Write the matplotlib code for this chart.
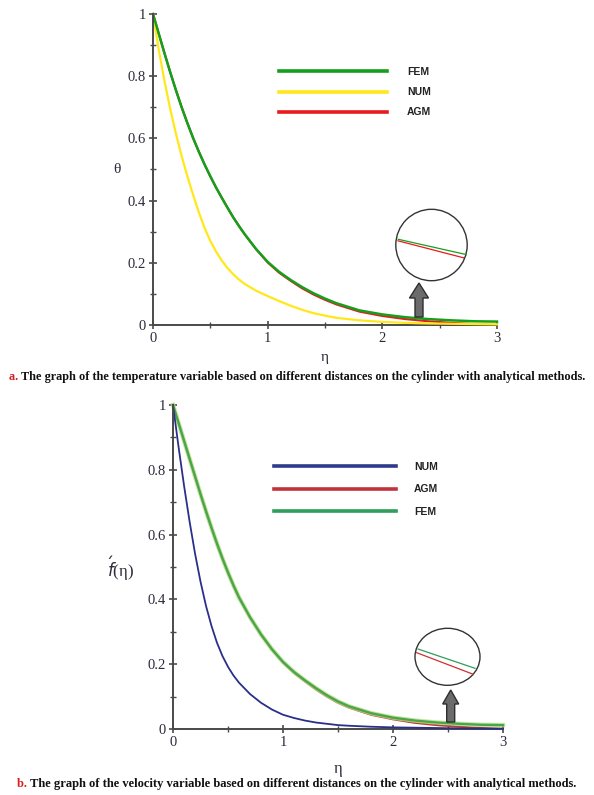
import matplotlib
matplotlib.use("Agg")
import matplotlib.pyplot as plt
from matplotlib.patches import Circle, Ellipse, FancyArrow
from matplotlib.lines import Line2D
from matplotlib.ticker import MultipleLocator

# ---------------- data: panel a (temperature) ----------------
eta_a = [0, 0.05, 0.1, 0.15, 0.2, 0.25, 0.3, 0.35, 0.4, 0.45, 0.5, 0.55, 0.6, 0.65, 0.7, 0.75,
         0.8, 0.9, 1.0, 1.1, 1.2, 1.3, 1.4, 1.5, 1.6, 1.8, 2.0, 2.2, 2.4, 2.6, 2.8, 3.0]
fem_a = [1.0, 0.937, 0.874, 0.813, 0.755, 0.700, 0.649, 0.601, 0.557, 0.516, 0.478, 0.442,
         0.409, 0.377, 0.346, 0.318, 0.292, 0.244, 0.203, 0.171, 0.145, 0.122, 0.102, 0.085,
         0.07, 0.047, 0.034, 0.025, 0.019, 0.015, 0.012, 0.011]
agm_a = [1.0, 0.937, 0.874, 0.813, 0.755, 0.700, 0.649, 0.601, 0.557, 0.516, 0.478, 0.442,
         0.409, 0.377, 0.346, 0.318, 0.291, 0.243, 0.201, 0.168, 0.142, 0.118, 0.098, 0.081,
         0.066, 0.043, 0.029, 0.019, 0.012, 0.007, 0.003, 0.0]
num_a = [1.0, 0.885, 0.785, 0.695, 0.615, 0.543, 0.478, 0.418, 0.362, 0.312, 0.27, 0.236,
         0.207, 0.183, 0.163, 0.146, 0.132, 0.11, 0.093, 0.077, 0.062, 0.049, 0.038, 0.03,
         0.023, 0.015, 0.01, 0.007, 0.005, 0.004, 0.003, 0.002]

# ---------------- data: panel b (velocity) ----------------
eta_b = [0, 0.05, 0.1, 0.15, 0.2, 0.25, 0.3, 0.35, 0.4, 0.45, 0.5, 0.55, 0.6, 0.7, 0.8, 0.9,
         1.0, 1.1, 1.2, 1.3, 1.4, 1.5, 1.6, 1.8, 2.0, 2.2, 2.4, 2.6, 2.8, 3.0]
num_b = [1.0, 0.872, 0.752, 0.642, 0.542, 0.455, 0.38, 0.318, 0.266, 0.225, 0.192, 0.165,
         0.143, 0.108, 0.081, 0.06, 0.044, 0.034, 0.026, 0.02, 0.016, 0.012, 0.01, 0.007,
         0.005, 0.004, 0.003, 0.002, 0.0015, 0.001]
fem_b = [1.0, 0.945, 0.89, 0.835, 0.78, 0.725, 0.672, 0.621, 0.572, 0.526, 0.483, 0.443,
         0.406, 0.345, 0.292, 0.246, 0.207, 0.176, 0.15, 0.126, 0.104, 0.085, 0.07, 0.049,
         0.035, 0.026, 0.02, 0.016, 0.013, 0.012]
agm_b = [1.0, 0.945, 0.89, 0.835, 0.78, 0.725, 0.672, 0.621, 0.572, 0.526, 0.483, 0.443,
         0.406, 0.345, 0.291, 0.245, 0.205, 0.173, 0.147, 0.122, 0.1, 0.081, 0.066, 0.044,
         0.03, 0.019, 0.012, 0.007, 0.003, 0.0]

x_ticks = [0, 1, 2, 3]
y_ticks = [0, 0.2, 0.4, 0.6, 0.8, 1]
y_tick_labels = ["0", "0.2", "0.4", "0.6", "0.8", "1"]

caption_a = "The graph of the temperature variable based on different distances on the cylinder with analytical methods."
caption_b = "The graph of the velocity variable based on different distances on the cylinder with analytical methods."

W, H = 594, 795
fig = plt.figure(figsize=(W / 100, H / 100), dpi=100)
fig.patch.set_facecolor("white")

serif = ["Liberation Serif", "DejaVu Serif"]
sans_bold = ["Liberation Sans", "DejaVu Sans"]
tick_col = "#2b2b3b"
spine_col = "#4a4a4a"


def px_axes(l, r, b, t):
    return fig.add_axes([l / W, 1 - b / H, (r - l) / W, (b - t) / H])


def style(ax):
    ax.set_xlim(0, 3)
    ax.set_ylim(0, 1)
    for s in ("top", "right"):
        ax.spines[s].set_visible(False)
    for s in ("left", "bottom"):
        ax.spines[s].set_color(spine_col)
        ax.spines[s].set_linewidth(1.4)
    ax.spines["left"].set_zorder(5)
    ax.set_xticks(x_ticks)
    ax.set_xticklabels([str(v) for v in x_ticks])
    ax.set_yticks(y_ticks)
    ax.set_yticklabels(y_tick_labels)
    ax.xaxis.set_minor_locator(MultipleLocator(0.5))
    ax.yaxis.set_minor_locator(MultipleLocator(0.1))
    ax.tick_params(which="major", direction="inout", length=6, width=1.2, color=spine_col,
                   labelsize=10.5, labelcolor=tick_col, pad=2)
    ax.tick_params(which="minor", direction="inout", length=4, width=1.0, color=spine_col)
    for lab in ax.get_xticklabels() + ax.get_yticklabels():
        lab.set_fontfamily(serif)
    ax.patch.set_alpha(0)


def in_inches(xp, yp):
    return xp / 100, (H - yp) / 100


tr = fig.dpi_scale_trans

# ================= panel a =================
ax1 = px_axes(153, 497, 325, 14)
style(ax1)
l_agm_a, = ax1.plot(eta_a, agm_a, color="#e8191f", lw=1.5, label="AGM", zorder=2)
l_num_a, = ax1.plot(eta_a, num_a, color="#ffe81a", lw=1.6, label="NUM", zorder=3)
l_fem_a, = ax1.plot(eta_a, fem_a, color="#15a01c", lw=1.8, label="FEM", zorder=4)
for l in (l_agm_a, l_num_a, l_fem_a):
    l.set_clip_on(False)
    l.set_solid_joinstyle("round")
ax1.set_ylabel("θ", rotation=0, fontsize=11, family=serif, color=tick_col, va="center")
ax1.yaxis.set_label_coords(-0.105, 0.50)
ax1.set_xlabel("η", fontsize=11, family=serif, color=tick_col)
ax1.xaxis.set_label_coords(0.5, -0.083)

leg1 = ax1.legend(handles=[l_fem_a, l_num_a, l_agm_a], loc="upper left",
                  bbox_to_anchor=(279 / W, 1 - 67 / H), bbox_transform=fig.transFigure,
                  frameon=False, borderpad=0, borderaxespad=0, handlelength=10.4,
                  handletextpad=1.9, labelspacing=0.98,
                  prop={"family": sans_bold, "weight": "bold", "size": 7.5})
for h in leg1.get_lines():
    h.set_linewidth(2.6)
for t in leg1.get_texts():
    t.set_color("#222222")

# magnifier a
cx, cy = in_inches(431.5, 245)
fig.add_artist(Circle((cx, cy), 0.357, transform=tr, fill=False, ec="#333333", lw=1.0))
fig.add_artist(Line2D([398.3 / 100, 466 / 100], [(H - 239.3) / 100, (H - 254.5) / 100],
                      transform=tr, color="#15a01c", lw=0.9))
fig.add_artist(Line2D([398 / 100, 463.5 / 100], [(H - 240.8) / 100, (H - 257.8) / 100],
                      transform=tr, color="#e8191f", lw=0.9))
ax_, ay_ = in_inches(419, 317)
fig.add_artist(FancyArrow(ax_, ay_, 0, 0.34, width=0.08, head_width=0.19, head_length=0.15,
                          length_includes_head=True, transform=tr, fc="#6b6b6b", ec="#2e2e2e", lw=1.0))

# ================= panel b =================
ax2 = px_axes(173, 503, 729, 405)
style(ax2)
l_agm_b, = ax2.plot(eta_b, agm_b, color="#c0392b", lw=1.5, label="AGM", zorder=2)
ax2.plot(eta_b, fem_b, color="#b9e08a", lw=3.2, alpha=0.8, zorder=3)
l_fem_b, = ax2.plot(eta_b, fem_b, color="#4aa64a", lw=1.7, label="FEM", zorder=4)
l_num_b, = ax2.plot(eta_b, num_b, color="#2b2f8a", lw=1.3, label="NUM", zorder=5)
for l in ax2.get_lines():
    l.set_clip_on(False)
    l.set_solid_joinstyle("round")
ax2.set_ylabel(r"$\acute{f}$(η)", rotation=0, fontsize=12, family=serif, color=tick_col,
               va="center")
ax2.yaxis.set_label_coords(-0.16, 0.495)
ax2.set_xlabel("η", fontsize=12, family=serif, color=tick_col)
ax2.xaxis.set_label_coords(0.5, -0.10)

leg2 = ax2.legend(handles=[l_num_b, l_agm_b, l_fem_b], loc="upper left",
                  bbox_to_anchor=(274 / W, 1 - 462 / H), bbox_transform=fig.transFigure,
                  frameon=False, borderpad=0, borderaxespad=0, handlelength=11.7,
                  handletextpad=1.75, labelspacing=1.2,
                  prop={"family": sans_bold, "weight": "bold", "size": 7.5})
leg_cols = ["#2e3a8c", "#c0333a", "#2e9e5a"]
for h, c in zip(leg2.get_lines(), leg_cols):
    h.set_linewidth(2.6)
    h.set_color(c)
for t in leg2.get_texts():
    t.set_color("#222222")

# magnifier b
cx, cy = in_inches(447.5, 656.8)
fig.add_artist(Ellipse((cx, cy), 0.65, 0.57, transform=tr, fill=False, ec="#333333", lw=1.0))
fig.add_artist(Line2D([418 / 100, 475 / 100], [(H - 649) / 100, (H - 668.3) / 100],
                      transform=tr, color="#2e9e5a", lw=0.9))
fig.add_artist(Line2D([416.7 / 100, 473.3 / 100], [(H - 652.7) / 100, (H - 674.3) / 100],
                      transform=tr, color="#d03030", lw=0.9))
ax_, ay_ = in_inches(450.7, 722)
fig.add_artist(FancyArrow(ax_, ay_, 0, 0.32, width=0.08, head_width=0.16, head_length=0.14,
                          length_includes_head=True, transform=tr, fc="#6b6b6b", ec="#2e2e2e", lw=1.0))

# ================= captions =================
fig.canvas.draw()
r = fig.canvas.get_renderer()
for ypx, letter, cap, fs in ((377, "a.", caption_a, 8.8), (784, "b.", caption_b, 9.0)):
    ta = fig.text(0, 1 - ypx / H, letter + " ", color="#d42020", fontsize=fs,
                  family=serif, weight="bold", va="center")
    tb = fig.text(0, 1 - ypx / H, cap, color="#111111", fontsize=fs,
                  family=serif, weight="bold", va="center")
    wa = ta.get_window_extent(r).width
    wb = tb.get_window_extent(r).width
    x0 = (W - (wa + wb)) / 2
    ta.set_x(x0 / W)
    tb.set_x((x0 + wa) / W)

fig.savefig("out.png", dpi=100, facecolor="white")
